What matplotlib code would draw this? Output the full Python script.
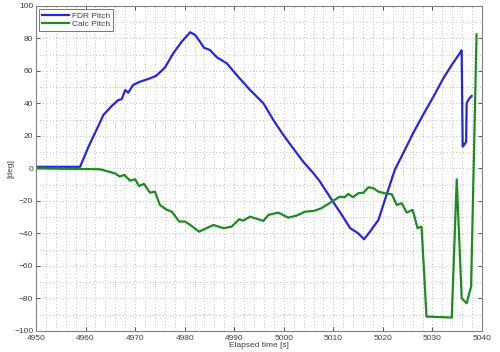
import numpy as np
import matplotlib
matplotlib.use("Agg")
from matplotlib import pyplot as plt
from matplotlib.ticker import MultipleLocator

# FDR Pitch（青）
fdr_t = [4950, 4958.9, 4960.6, 4962.2, 4963.6, 4965.3, 4966.6, 4967.3, 4968.0, 4968.6,
         4969.6, 4971.0, 4972.7, 4974.2, 4976.0, 4977.7, 4979.4, 4981.1, 4982.1, 4983.1,
         4983.9, 4985.1, 4986.5, 4988.5, 4990.5, 4993.2, 4995.9, 4997.9, 4999.9, 5001.9,
         5003.9, 5006.0, 5007.3, 5009.7, 5011.7, 5013.4, 5015.0, 5016.2, 5017.4, 5019.1,
         5020.4, 5021.4, 5022.4, 5024.1, 5026.1, 5028.1, 5030.2, 5032.2, 5033.9, 5035.6,
         5035.9, 5036.1, 5036.4, 5036.8, 5036.9, 5037.4, 5037.9]
fdr_v = [1, 1, 13.4, 23.7, 32.9, 38.5, 42.1, 42.6, 48.3, 46.6,
         51.4, 53.4, 55.1, 56.9, 62.0, 70.9, 78.0, 83.8, 82.2, 78.0,
         74.3, 72.9, 68.4, 64.7, 57.5, 48.3, 40.1, 29.8, 20.6, 12.4,
         4.2, -3.0, -8.1, -19.4, -28.6, -36.8, -39.9, -43.6, -38.9, -31.7,
         -19.4, -10.2, -0.9, 9.4, 21.7, 32.9, 44.2, 55.5, 63.7, 71.3,
         72.7, 13.4, 14.5, 16.5, 40.1, 43.0, 44.6]

# Calc Pitch（緑）
calc_t = [4950, 4962.9, 4965.9, 4966.9, 4967.8, 4969.0, 4970.0, 4970.8, 4971.8, 4973.0,
          4974.0, 4975.0, 4976.4, 4977.4, 4978.9, 4980.1, 4981.4, 4982.9, 4984.4, 4985.8,
          4987.8, 4989.5, 4991.0, 4991.8, 4993.2, 4995.9, 4996.9, 4998.9, 5000.9, 5002.6,
          5004.3, 5006.0, 5007.6, 5009.7, 5011.3, 5012.3, 5013.0, 5014.0, 5015.0, 5016.1,
          5017.1, 5018.1, 5019.1, 5020.4, 5021.8, 5022.8, 5023.8, 5024.8, 5026.0, 5027.0,
          5027.8, 5028.8, 5033.9, 5034.9, 5035.9, 5036.9, 5037.8, 5038.9]
calc_v = [0, -0.5, -3.0, -5.0, -4.0, -7.5, -6.7, -10.8, -9.5, -14.9,
          -14.3, -22.5, -25.5, -26.6, -32.7, -32.7, -35.4, -38.9, -36.8, -34.8,
          -36.8, -35.8, -31.3, -32.1, -29.7, -32.3, -28.6, -27.2, -30.3, -29.0,
          -26.6, -26.2, -24.5, -20.4, -17.4, -17.7, -15.7, -17.7, -15.3, -14.9,
          -11.6, -12.2, -14.3, -15.3, -15.9, -22.5, -21.4, -27.2, -25.5, -36.8,
          -35.8, -91.2, -91.8, -6.7, -79.9, -83.0, -72.7, 82.5]

plt.rcParams['font.family'] = ['Liberation Sans', 'DejaVu Sans']
txt_color = '#404040'

fig = plt.figure(figsize=(5.0, 3.52), dpi=100)
ax = fig.add_axes([0.072, 0.06, 0.892, 0.923])

ax.plot(fdr_t, fdr_v, color='#2626e0', lw=1.6, label='FDR Pitch')
ax.plot(calc_t, calc_v, color='#1f8a1f', lw=1.6, label='Calc Pitch')

ax.set_xlim(4950, 5040)
ax.set_ylim(-100, 100)
ax.xaxis.set_major_locator(MultipleLocator(10))
ax.yaxis.set_major_locator(MultipleLocator(20))
ax.xaxis.set_minor_locator(MultipleLocator(2))
ax.yaxis.set_minor_locator(MultipleLocator(10))

# グリッド（点線）
ax.grid(which='both', color='#a8a8a8', linestyle=(0, (1, 3)), linewidth=0.6)
ax.tick_params(which='major', direction='in', length=3, width=0.6, top=True, right=True,
               labelsize=6, colors=txt_color)
ax.tick_params(axis='x', pad=3)
ax.tick_params(axis='y', pad=2)
ax.tick_params(which='minor', length=0)
for s in ax.spines.values():
    s.set_color('#808080')
    s.set_linewidth(0.8)

ax.set_xlabel('Elapsed time [s]', fontsize=6, color=txt_color, labelpad=0)
ax.set_ylabel('[deg]', fontsize=6, color=txt_color, labelpad=0)

leg = ax.legend(loc='upper left', fontsize=6, handlelength=3.2, borderpad=0.3,
                labelspacing=0.1, handletextpad=0.4, fancybox=False, framealpha=1,
                borderaxespad=0.4)
leg.get_frame().set_edgecolor('#606060')
leg.get_frame().set_linewidth(0.6)
for t in leg.get_texts():
    t.set_color(txt_color)

fig.savefig('out.png', dpi=100)
